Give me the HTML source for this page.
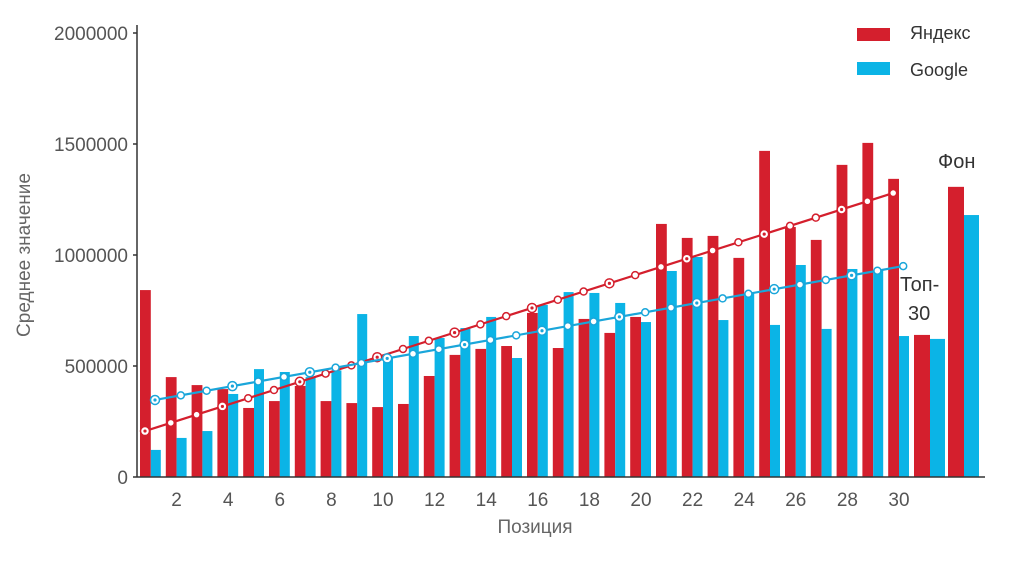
<!DOCTYPE html>
<html><head><meta charset="utf-8"><style>
body{margin:0;background:#fff;}
svg text{font-family:"Liberation Sans",sans-serif;}
</style></head><body>
<svg id="c" width="1024" height="559" viewBox="0 0 1024 559" xmlns="http://www.w3.org/2000/svg">
<g id="bars"></g>
<g id="trends"></g>
<g id="axes"></g>
<text x="30" y="255" transform="rotate(-90 30 255)" text-anchor="middle" font-size="19" fill="#666">Среднее значение</text>
<text x="535" y="533" text-anchor="middle" font-size="19" fill="#666">Позиция</text>
<g>
<rect x="857" y="28" width="33" height="13" fill="#d41f2d"/>
<text x="910" y="39" font-size="18" fill="#333">Яндекс</text>
<rect x="857" y="62" width="33" height="13" fill="#0bb4e6"/>
<text x="910" y="76" font-size="18" fill="#333">Google</text>
</g>
<text x="938" y="168" font-size="20" fill="#333">Фон</text>
<text x="900" y="291" font-size="20" fill="#333">Топ-</text>
<text x="908" y="320" font-size="20" fill="#333">30</text>
</svg>
<script>
const positions=[1,2,3,4,5,6,7,8,9,10,11,12,13,14,15,16,17,18,19,20,21,22,23,24,25,26,27,28,29,30];
const yandex=[842000,450000,414000,396000,311000,342000,410000,342000,333000,315000,329000,455000,550000,577000,590000,739000,581000,712000,649000,721000,1140000,1077000,1086000,987000,1469000,1126000,1068000,1406000,1505000,1343000];
const google=[122000,176000,207000,374000,486000,473000,450000,480000,734000,536000,635000,626000,671000,721000,536000,775000,833000,829000,784000,698000,928000,991000,707000,829000,685000,955000,667000,937000,932000,635000];
const summaryLabels=["Топ-30","Фон"];
const summaryYandex=[640000,1307000];
const summaryGoogle=[622000,1180000];
const trendYandexEnds=[207000,1279000];
const trendGoogleEnds=[347000,950000];
const yTicks=[0,500000,1000000,1500000,2000000];
const xTickLabels=[2,4,6,8,10,12,14,16,18,20,22,24,26,28,30];

const NS="http://www.w3.org/2000/svg";
const base=477, top0=33, axisX=137;
const y=v=>base-(v/2000000)*(base-top0);
const pitch=25.8, left0=140;
const gx=p=>left0+(p-1)*pitch;
function mk(tag,attrs,parent){const e=document.createElementNS(NS,tag);for(const k in attrs)e.setAttribute(k,attrs[k]);parent.appendChild(e);return e;}
const bars=document.getElementById('bars'),axes=document.getElementById('axes'),tr=document.getElementById('trends');
positions.forEach((p,i)=>{
  const x=gx(p);
  let r=mk('rect',{x:x,y:y(yandex[i]),width:10.8,height:base-y(yandex[i]),fill:'#d41f2d'},bars);
  
  
  let b=mk('rect',{x:x+10.8,y:y(google[i]),width:10,height:base-y(google[i]),fill:'#0bb4e6'},bars);
  
  
});
const sx=[914,948];
summaryLabels.forEach((l,i)=>{
  let r=mk('rect',{x:sx[i],y:y(summaryYandex[i]),width:16,height:base-y(summaryYandex[i]),fill:'#d41f2d'},bars);
  
  
  let b=mk('rect',{x:sx[i]+16,y:y(summaryGoogle[i]),width:15,height:base-y(summaryGoogle[i]),fill:'#0bb4e6'},bars);
  
  
});
function trend(ends,color,off,name){
  const n=positions.length;
  const x1=gx(1)+off,x2=gx(n)+off;
  let l=mk('line',{x1:x1,y1:y(ends[0]),x2:x2,y2:y(ends[1]),stroke:color,'stroke-width':2.2},tr);
  
  
  positions.forEach((p,i)=>{
    const v=ends[0]+(ends[1]-ends[0])*i/(n-1);
    const cx=gx(p)+off, cy=y(v);
    let c=mk('circle',{cx:cx,cy:cy,r:(i%3==0)?4.5:3.5,fill:'#fff',stroke:color,'stroke-width':1.5},tr);
    
    
    if(i%3==0){mk('circle',{cx:cx,cy:cy,r:1.6,fill:color},tr);}
  });
}
trend(trendYandexEnds,'#d41f2d',5,'trend-yandex');
trend(trendGoogleEnds,'#1aa6da',15,'trend-google');
let ya=mk('line',{x1:axisX,y1:25,x2:axisX,y2:base,stroke:'#333','stroke-width':1.5},axes);


let xa=mk('line',{x1:axisX,y1:base,x2:985,y2:base,stroke:'#333','stroke-width':1.5},axes);


yTicks.forEach(v=>{
  mk('line',{x1:axisX-4,y1:y(v),x2:axisX,y2:y(v),stroke:'#333','stroke-width':1.5},axes);
  let t=mk('text',{x:128,y:y(v)+7,'text-anchor':'end','font-size':19,fill:'#555'},axes);
  t.textContent=v;
  
  
});
xTickLabels.forEach(p=>{
  let t=mk('text',{x:gx(p)+10.8,y:506,'text-anchor':'middle','font-size':19,fill:'#555'},axes);
  t.textContent=p;
  
  
});
</script>
</body></html>
